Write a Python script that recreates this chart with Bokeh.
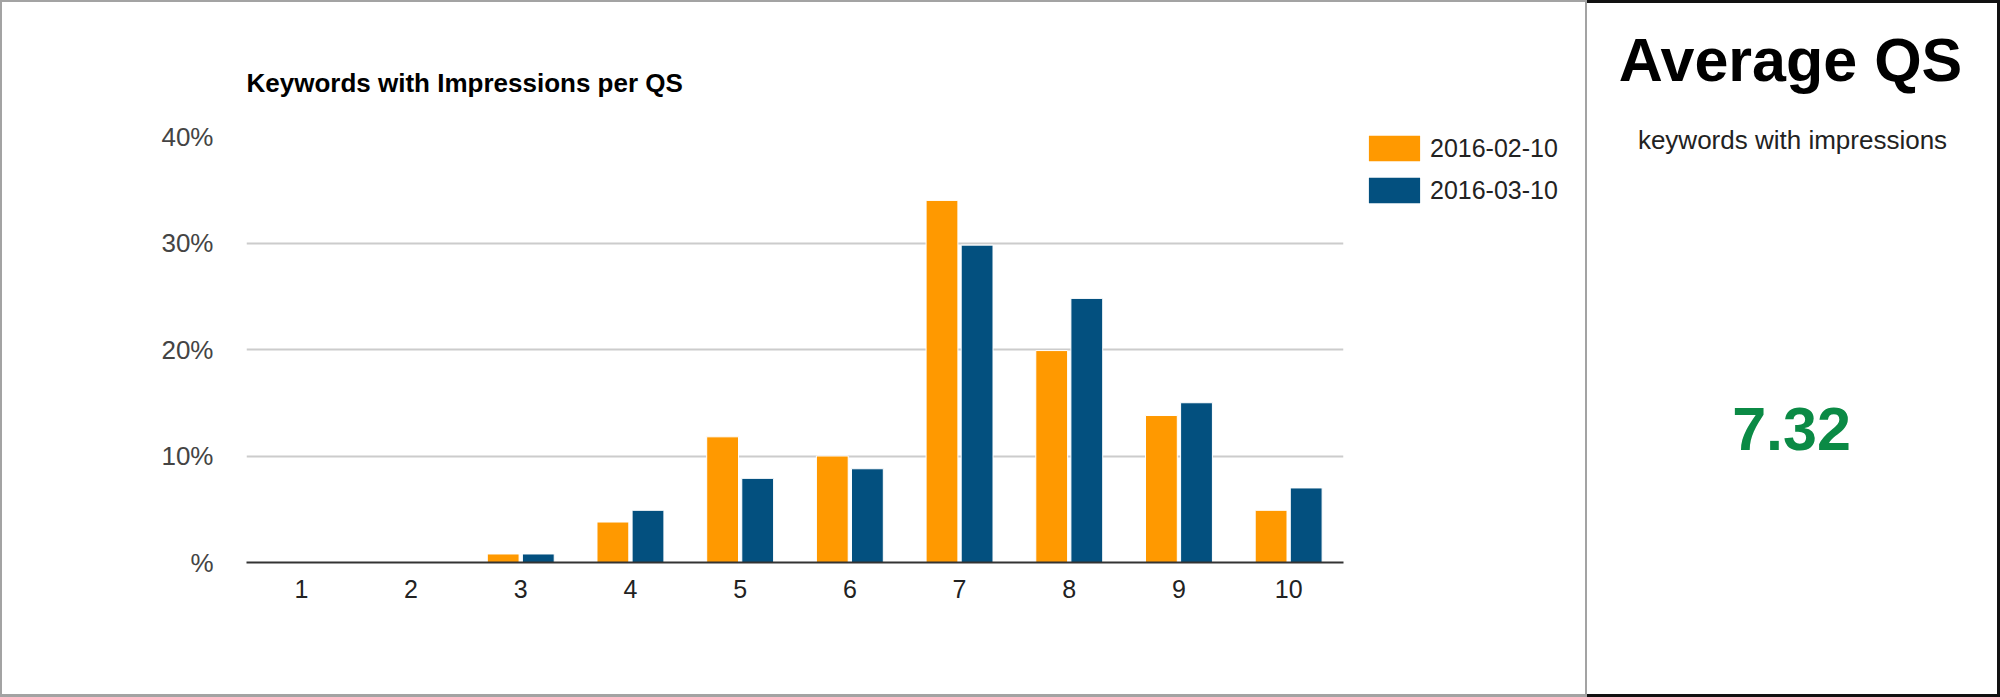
from bokeh.plotting import figure
from bokeh.layouts import row
from bokeh.models import Range1d, Label, Legend, LegendItem, ColumnDataSource
from bokeh.transform import dodge
from bokeh.embed import file_html
from bokeh.resources import INLINE

# ---- data ----
qs = [1, 2, 3, 4, 5, 6, 7, 8, 9, 10]
qs_labels = ["1", "2", "3", "4", "5", "6", "7", "8", "9", "10"]
feb_pct = [0, 0, 0.8, 3.8, 11.8, 10.0, 34.0, 19.9, 13.8, 4.9]
mar_pct = [0, 0, 0.8, 4.9, 7.9, 8.8, 29.8, 24.8, 15.0, 7.0]
series_names = ["2016-02-10", "2016-03-10"]
series_colors = ["#FF9900", "#03507F"]
y_ticks = [0, 10, 20, 30, 40]
y_tick_labels = ["%", "10%", "20%", "30%", "40%"]
chart_title = "Keywords with Impressions per QS"
panel_title = "Average QS"
panel_subtitle = "keywords with impressions"
average_qs = 7.32

FONT = "Liberation Sans"
H = 697
GRAY = "#a3a3a3"
DARK = "#111111"


def no_frame_align(fig):
    try:
        fig.frame_align = False
    except Exception:
        pass


def clear_fig(fig):
    fig.border_fill_color = None
    fig.background_fill_color = None
    fig.outline_line_color = None


# ---- left chart ----
src = ColumnDataSource(dict(qs=qs, feb=feb_pct, mar=mar_pct))

p = figure(width=1350, height=H, x_range=Range1d(0.5, 10.5), y_range=Range1d(0, 40),
           output_backend="svg", toolbar_location=None, title=chart_title,
           min_border_left=246, min_border_right=7, min_border_top=136, min_border_bottom=135)
no_frame_align(p)
clear_fig(p)
p.styles = {"box-shadow": f"inset 2px 0 0 0 {GRAY}, inset 0 2px 0 0 {GRAY}, inset 0 -3px 0 0 {GRAY}",
            "background-color": "#ffffff"}

p.title.align = "left"
p.title.text_font = FONT
p.title.text_font_size = "26px"
p.title.text_font_style = "bold"
p.title.text_color = "#000000"
p.title.standoff = 77

r1 = p.vbar(x=dodge("qs", -0.16), top="feb", width=0.29, source=src,
            fill_color=series_colors[0], line_color="white", line_width=1)
r2 = p.vbar(x=dodge("qs", 0.16), top="mar", width=0.29, source=src,
            fill_color=series_colors[1], line_color="white", line_width=1)

p.xgrid.visible = False
p.ygrid.grid_line_color = "#cccccc"
p.ygrid.grid_line_width = 2
p.ygrid.ticker = y_ticks

p.xaxis.ticker = qs
p.xaxis.major_label_overrides = {q: l for q, l in zip(qs, qs_labels)}
p.xaxis.axis_line_color = "#333333"
p.xaxis.axis_line_width = 2
p.xaxis.major_tick_line_color = None
p.xaxis.minor_tick_line_color = None
p.xaxis.major_label_standoff = 11
p.xaxis.major_label_text_font = FONT
p.xaxis.major_label_text_font_size = "25px"
p.xaxis.major_label_text_color = "#222222"

p.yaxis.ticker = y_ticks
p.yaxis.major_label_overrides = {t: l for t, l in zip(y_ticks, y_tick_labels)}
p.yaxis.axis_line_color = None
p.yaxis.major_tick_line_color = None
p.yaxis.minor_tick_line_color = None
p.yaxis.major_label_standoff = 27
p.yaxis.major_label_text_font = FONT
p.yaxis.major_label_text_font_size = "26px"
p.yaxis.major_label_text_color = "#444444"

# ---- legend strip (continuation of left panel) ----
# same series used here only as legend keys; both ranges lie away from the bars
m = figure(width=1587 - 1350, height=H, x_range=Range1d(-2, -1), y_range=Range1d(100, 101),
           output_backend="svg", toolbar_location=None, min_border_left=0, min_border_right=0,
           min_border_top=120, min_border_bottom=0, x_axis_type=None, y_axis_type=None)
no_frame_align(m)
clear_fig(m)
m.grid.visible = False
m.styles = {"box-shadow": f"inset -2px 0 0 0 {GRAY}, inset 0 2px 0 0 {GRAY}, inset 0 -3px 0 0 {GRAY}",
            "background-color": "#ffffff"}
k1 = m.vbar(x=dodge("qs", -0.16), top="feb", width=0.29, source=src,
            fill_color=series_colors[0], line_color=None)
k2 = m.vbar(x=dodge("qs", 0.16), top="mar", width=0.29, source=src,
            fill_color=series_colors[1], line_color=None)
legend = Legend(items=[LegendItem(label=series_names[0], renderers=[k1]),
                       LegendItem(label=series_names[1], renderers=[k2])],
                location="top_left", orientation="vertical",
                glyph_width=64, glyph_height=32, label_height=26, spacing=10,
                label_standoff=4, padding=0, margin=12,
                border_line_color=None, background_fill_alpha=0,
                label_text_font=FONT, label_text_font_size="25px", label_text_color="#222222")
m.add_layout(legend)

# ---- right panel ----
q = figure(width=2000 - 1587, height=H, x_range=Range1d(0, 413), y_range=Range1d(H, 0),
           output_backend="svg", toolbar_location=None, min_border=0,
           x_axis_type=None, y_axis_type=None)
no_frame_align(q)
clear_fig(q)
q.grid.visible = False
q.styles = {"box-shadow": f"inset 0 3px 0 0 {DARK}, inset -3px 0 0 0 {DARK}, inset 0 -3px 0 0 {DARK}",
            "background-color": "#ffffff"}

q.add_layout(Label(x=203, y=59, text=panel_title, text_font=FONT, text_font_size="61px",
                   text_font_style="bold", text_color="#000000", text_align="center",
                   text_baseline="middle"))
q.add_layout(Label(x=205, y=139, text=panel_subtitle, text_font=FONT, text_font_size="26px",
                   text_color="#222222", text_align="center", text_baseline="middle"))
q.add_layout(Label(x=204, y=428, text=f"{average_qs:.2f}", text_font=FONT, text_font_size="61px",
                   text_font_style="bold", text_color="#0B8A45", text_align="center",
                   text_baseline="middle"))

layout = row(p, m, q, spacing=0)
open("out.html", "w").write(file_html(layout, INLINE))
